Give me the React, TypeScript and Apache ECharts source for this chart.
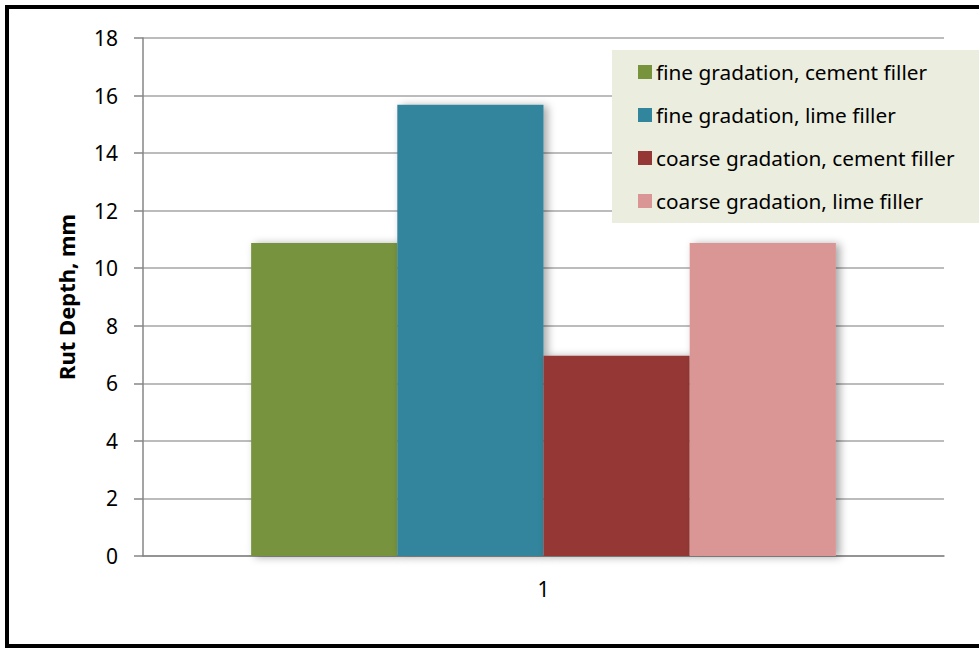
import React, { useEffect, useRef } from "react";
import * as echarts from "echarts";

const categories = ["1"];
const seriesNames = [
  "fine gradation, cement filler",
  "fine gradation, lime filler",
  "coarse gradation, cement filler",
  "coarse gradation, lime filler",
];
const seriesValues = [[10.88], [15.68], [6.96], [10.88]];
const seriesColors = ["#77933C", "#31859C", "#953735", "#D99694"];
const yTicks = { min: 0, max: 18, interval: 2 };

const FONT = "'Noto Sans', 'DejaVu Sans', sans-serif";

export default function App() {
  const ref = useRef<HTMLDivElement>(null);
  useEffect(() => {
    if (!ref.current) return;
    const chart = echarts.init(ref.current, undefined, { renderer: "svg" });
    chart.setOption({
      animation: false,
      backgroundColor: "#ffffff",
      textStyle: { fontFamily: FONT },
      graphic: [
        {
          type: "rect",
          shape: { x: 7, y: 7, width: 1000, height: 639 },
          style: { fill: "none", stroke: "#000000", lineWidth: 4 },
          silent: true,
          z: 100,
        },
      ],
      grid: { left: 143, top: 38, right: 35, bottom: 95, containLabel: false },
      legend: {
        orient: "vertical",
        left: 612,
        top: 50,
        backgroundColor: "#EBEEDF",
        padding: [11, 80, 11, 26],
        itemWidth: 14,
        itemHeight: 14,
        itemGap: 21,
        icon: "rect",
        textStyle: { fontFamily: FONT, fontSize: 20.8, color: "#000000", lineHeight: 22, padding: [0, 0, 0, -1] },
        data: seriesNames,
      },
      xAxis: {
        type: "category",
        data: categories,
        axisLine: { lineStyle: { color: "#868686", width: 1.5 } },
        axisTick: { show: false },
        axisLabel: { fontFamily: FONT, fontSize: 21, color: "#000000", margin: 22 },
      },
      yAxis: {
        type: "value",
        min: yTicks.min,
        max: yTicks.max,
        interval: yTicks.interval,
        name: "Rut Depth, mm",
        nameLocation: "middle",
        nameGap: 66,
        nameRotate: 90,
        nameTextStyle: { fontFamily: FONT, fontSize: 22, fontWeight: "bold", color: "#000000" },
        axisLine: { show: true, lineStyle: { color: "#868686", width: 1.5 } },
        axisTick: { show: true, length: 9, lineStyle: { color: "#868686", width: 1.5 } },
        axisLabel: { fontFamily: FONT, fontSize: 21, color: "#000000", margin: 25 },
        splitLine: { lineStyle: { color: "#A6A6A6", width: 1.5 } },
      },
      series: seriesNames.map((name, i) => ({
        name,
        type: "bar",
        data: seriesValues[i],
        barGap: "0%",
        barCategoryGap: "27%",
        itemStyle: {
          color: seriesColors[i],
          shadowColor: "rgba(0,0,0,0.35)",
          shadowBlur: 8,
          shadowOffsetX: 4,
          shadowOffsetY: 1,
        },
      })),
    });
    return () => chart.dispose();
  }, []);
  return (
    <div
      ref={ref}
      style={{ position: "fixed", left: 0, top: 0, width: 979, height: 651 }}
    />
  );
}
